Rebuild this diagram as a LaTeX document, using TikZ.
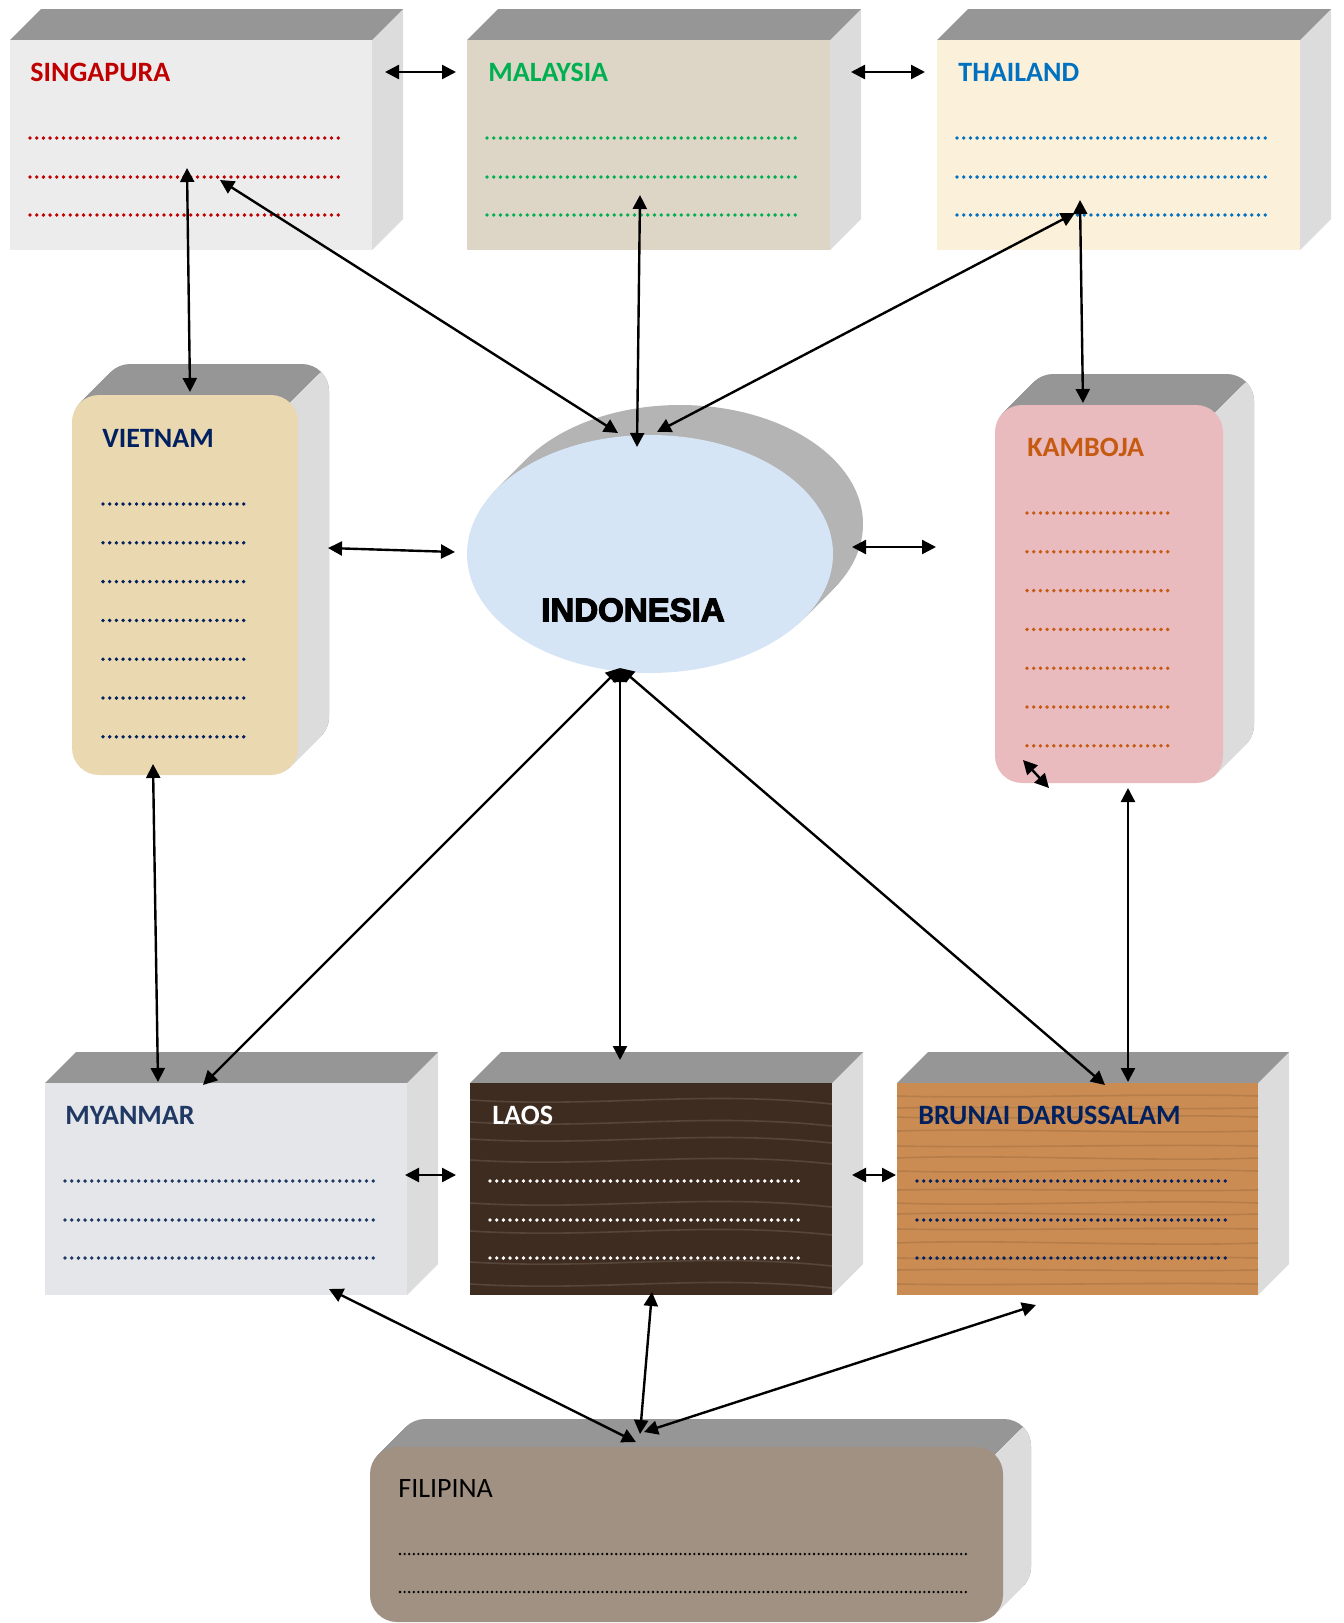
\documentclass[tikz,border=0pt]{standalone}
\usepackage{fontspec}
\setmainfont{Carlito}
\newfontfamily\heavyfont{Liberation Sans}[UprightFont={* Bold},FakeBold=3.5]
\usetikzlibrary{arrows.meta,calc,fit,backgrounds,shapes.geometric}
\definecolor{SingClr}{RGB}{192,0,0}
\definecolor{MalayClr}{RGB}{0,176,80}
\definecolor{ThaiClr}{RGB}{0,112,192}
\definecolor{VietClr}{RGB}{0,32,96}
\definecolor{KambClr}{RGB}{197,90,17}
\definecolor{MyanClr}{RGB}{31,56,100}
\definecolor{BrunClr}{RGB}{0,32,96}
\definecolor{SingFill}{RGB}{236,236,236}
\definecolor{MalayFill}{RGB}{221,214,198}
\definecolor{ThaiFill}{RGB}{251,240,218}
\definecolor{VietFill}{RGB}{234,216,176}
\definecolor{KambFill}{RGB}{233,186,190}
\definecolor{IndoFill}{RGB}{214,229,245}
\definecolor{MyanFill}{RGB}{228,230,233}
\definecolor{LaosFill}{RGB}{62,44,32}
\definecolor{BrunFill}{RGB}{202,140,82}
\definecolor{FiliFill}{RGB}{160,145,130}
\definecolor{TopClr}{RGB}{150,150,150}
\definecolor{SideClr}{RGB}{220,220,220}
\definecolor{OvalClr}{RGB}{180,180,180}

% flat block: right side and top
\newcommand{\DrawSlab}[2]{%
  \fill[SideClr] (#1.north east) -- ++(#2,-#2) -- ([shift={(#2,-#2)}]#1.south east) -- (#1.south east) -- cycle;
  \fill[TopClr] (#1.north west) -- ++(#2,-#2) -- ([shift={(#2,-#2)}]#1.north east) -- (#1.north east) -- cycle;
}
% rounded block
\newcommand{\DrawRoundSlab}[2]{%
  \foreach \k in {1,...,#2}
    \fill[TopClr,rounded corners=13.5pt] ([shift={(\k,-\k)}]#1.south west) rectangle ([shift={(\k,-\k)}]#1.north east);
  \begin{scope}
    \clip ([shift={(-8,8)}]#1.north east) -- ++(80,-80) -- ([shift={(72,-88)}]#1.south east) -- ([shift={(-8,-8)}]#1.south east) -- cycle;
    \foreach \k in {1,...,#2}
      \fill[SideClr,rounded corners=13.5pt] ([shift={(\k,-\k)}]#1.south west) rectangle ([shift={(\k,-\k)}]#1.north east);
  \end{scope}
}

\begin{document}
\begin{tikzpicture}[x=0.5pt,y=-0.5pt,
  face/.style={inner sep=0pt,outer sep=0pt},
  title/.style={anchor=west,inner sep=0pt,font=\bfseries\fontsize{14}{16}\selectfont},
  dotrow/.style={line width=1.9pt,line cap=round,dash pattern=on 0pt off 3.35pt},
  filirow/.style={line width=1.3pt,line cap=round,dash pattern=on 0pt off 2.3pt},
  grain/.style={line width=0.8pt,opacity=0.3},
  link/.style={{Triangle[length=7pt,width=7pt]}-{Triangle[length=7pt,width=7pt]},line width=1.2pt}]
\useasboundingbox (0,0) rectangle (1344,1623);

% blocks
\node[face,fill=SingFill,fit={(10,40)(372,250)}] (sing) {};
\node[face,fill=MalayFill,fit={(467,40)(830,250)}] (malay) {};
\node[face,fill=ThaiFill,fit={(937,40)(1300,250)}] (thai) {};
\node[face,fill=VietFill,rounded corners=13.5pt,fit={(72,395)(298,775)}] (viet) {};
\node[face,fill=KambFill,rounded corners=13.5pt,fit={(995,405)(1223,783)}] (kamb) {};
\node[face,ellipse,fill=IndoFill,minimum width=183pt,minimum height=119pt] (indo) at (650,554) {};
\node[face,fill=MyanFill,fit={(45,1083)(407,1295)}] (myan) {};
\node[face,fill=LaosFill,fit={(470,1083)(832,1295)}] (laos) {};
\node[face,fill=BrunFill,fit={(897,1083)(1258,1295)}] (brun) {};
\node[face,fill=FiliFill,rounded corners=13.5pt,fit={(370,1447)(1003,1622)}] (fili) {};

\begin{scope}[on background layer]
\DrawSlab{sing}{31}
\DrawSlab{malay}{31}
\DrawSlab{thai}{31}
\DrawSlab{myan}{31}
\DrawSlab{laos}{31}
\DrawSlab{brun}{31}
\DrawRoundSlab{viet}{31}
\DrawRoundSlab{kamb}{31}
\DrawRoundSlab{fili}{28}
\foreach \k in {2,4,...,30}
  \fill[OvalClr] ([shift={(\k,-\k)}]indo.center) ellipse [x radius=91.5pt,y radius=59.5pt];
\end{scope}

% wood grain
\foreach \y in {1100,1122,1139,1160,1203,1231,1262,1284}
  \draw[grain,LaosFill!60!white] (laos.west |- 0,\y) .. controls (600,\y+8) and (700,\y-10) .. (laos.east |- 0,\y+4);
\foreach \y/\d in {1096/3,1108/-2,1117/4,1131/-3,1146/2,1158/-4,1171/3,1190/-2,1203/4,1214/-3,1229/2,1243/-4,1258/3,1270/-2,1284/2}
  \draw[grain,BrunFill!65!black] (brun.west |- 0,\y) .. controls (1000,\y+\d) and (1150,\y-\d) .. (brun.east |- 0,\y);

% titles
\node[title,text=SingClr] (singT) at ([shift={(20,32)}]sing.north west) {SINGAPURA};
\node[title,text=MalayClr] (malayT) at ([shift={(21,32)}]malay.north west) {MALAYSIA};
\node[title,text=ThaiClr] (thaiT) at ([shift={(21,32)}]thai.north west) {THAILAND};
\node[title,text=VietClr] (vietT) at ([shift={(30,43)}]viet.north west) {VIETNAM};
\node[title,text=KambClr] (kambT) at ([shift={(32,42)}]kamb.north west) {KAMBOJA};
\node[title,text=MyanClr] (myanT) at ([shift={(20,32)}]myan.north west) {MYANMAR};
\node[title,text=white] (laosT) at ([shift={(22,32)}]laos.north west) {LAOS};
\node[title,text=BrunClr] (brunT) at ([shift={(21,32)}]brun.north west) {BRUNAI DARUSSALAM};
\node[title,font=\fontsize{14}{16}\selectfont] (filiT) at ([shift={(28,41)}]fili.north west) {FILIPINA};
\node[inner sep=0pt,font=\heavyfont\fontsize{16.5}{18}\selectfont] (indoT) at (633,610) {INDONESIA};

% dotted rows
\foreach \n/\c in {sing/SingClr,malay/MalayClr,thai/ThaiClr,myan/MyanClr,laos/white,brun/BrunClr}
  \foreach \r in {98,137,175}
    \draw[dotrow,\c] ([shift={(20,\r)}]\n.north west) -- ++(310,0);
\foreach \r in {0,...,6}{
  \draw[dotrow,VietClr] ([shift={(31,109+38.8*\r)}]viet.north west) -- ++(142,0);
  \draw[dotrow,KambClr] ([shift={(32,108+38.8*\r)}]kamb.north west) -- ++(143,0);
}
\foreach \r in {107,145}
  \draw[filirow] ([shift={(30,\r)}]fili.north west) -- ++(566,0);

% connector ends
\coordinate (sgE) at (385,72);    \coordinate (mlW) at (456,72);
\coordinate (mlE) at (851,72);    \coordinate (thW) at (925,72);
\coordinate (sgS) at (187,168);   \coordinate (vnN) at (190,392);
\coordinate (sgD) at (220,180);   \coordinate (idNW) at (618,433);
\coordinate (mlS) at (640,195);   \coordinate (idN) at (637,447);
\coordinate (thS) at (1075,213);  \coordinate (idNE) at (657,432);
\coordinate (thD) at (1080,200);  \coordinate (kbN) at (1083,403);
\coordinate (vnE) at (328,548);   \coordinate (idW) at (455,552);
\coordinate (idE) at (852,547);   \coordinate (kbW) at (936,547);
\coordinate (vnS) at (153,764);   \coordinate (mmN) at (158,1082);
\coordinate (idS) at (620,668);   \coordinate (mmNE) at (203,1085);
\coordinate (loN) at (620,1060);  \coordinate (brN) at (1105,1085);
\coordinate (kbS) at (1128,788);  \coordinate (brNE) at (1128,1082);
\coordinate (mmE) at (405,1175);  \coordinate (loW) at (456,1175);
\coordinate (loE) at (852,1175);  \coordinate (brW) at (896,1175);
\coordinate (mmS) at (329,1289);  \coordinate (flN) at (636,1442);
\coordinate (loS) at (652,1292);  \coordinate (flNa) at (640,1434);
\coordinate (brS) at (1036,1305); \coordinate (flNb) at (644,1432);
\coordinate (kbA) at (1023,760);  \coordinate (kbB) at (1049,788);

% connectors
\draw[link] (sgE) -- (mlW);
\draw[link] (mlE) -- (thW);
\draw[link] (sgS) -- (vnN);
\draw[link] (sgD) -- (idNW);
\draw[link] (mlS) -- (idN);
\draw[link] (thS) -- (idNE);
\draw[link] (thD) -- (kbN);
\draw[link] (vnE) -- (idW);
\draw[link] (idE) -- (kbW);
\draw[link] (vnS) -- (mmN);
\draw[link] (idS) -- (mmNE);
\draw[link] (idS) -- (loN);
\draw[link] (idS) -- (brN);
\draw[link] (kbS) -- (brNE);
\draw[link] (mmE) -- (loW);
\draw[link] (loE) -- (brW);
\draw[link] (mmS) -- (flN);
\draw[link] (loS) -- (flNa);
\draw[link] (brS) -- (flNb);
\draw[link] (kbA) -- (kbB);
\end{tikzpicture}
\end{document}
